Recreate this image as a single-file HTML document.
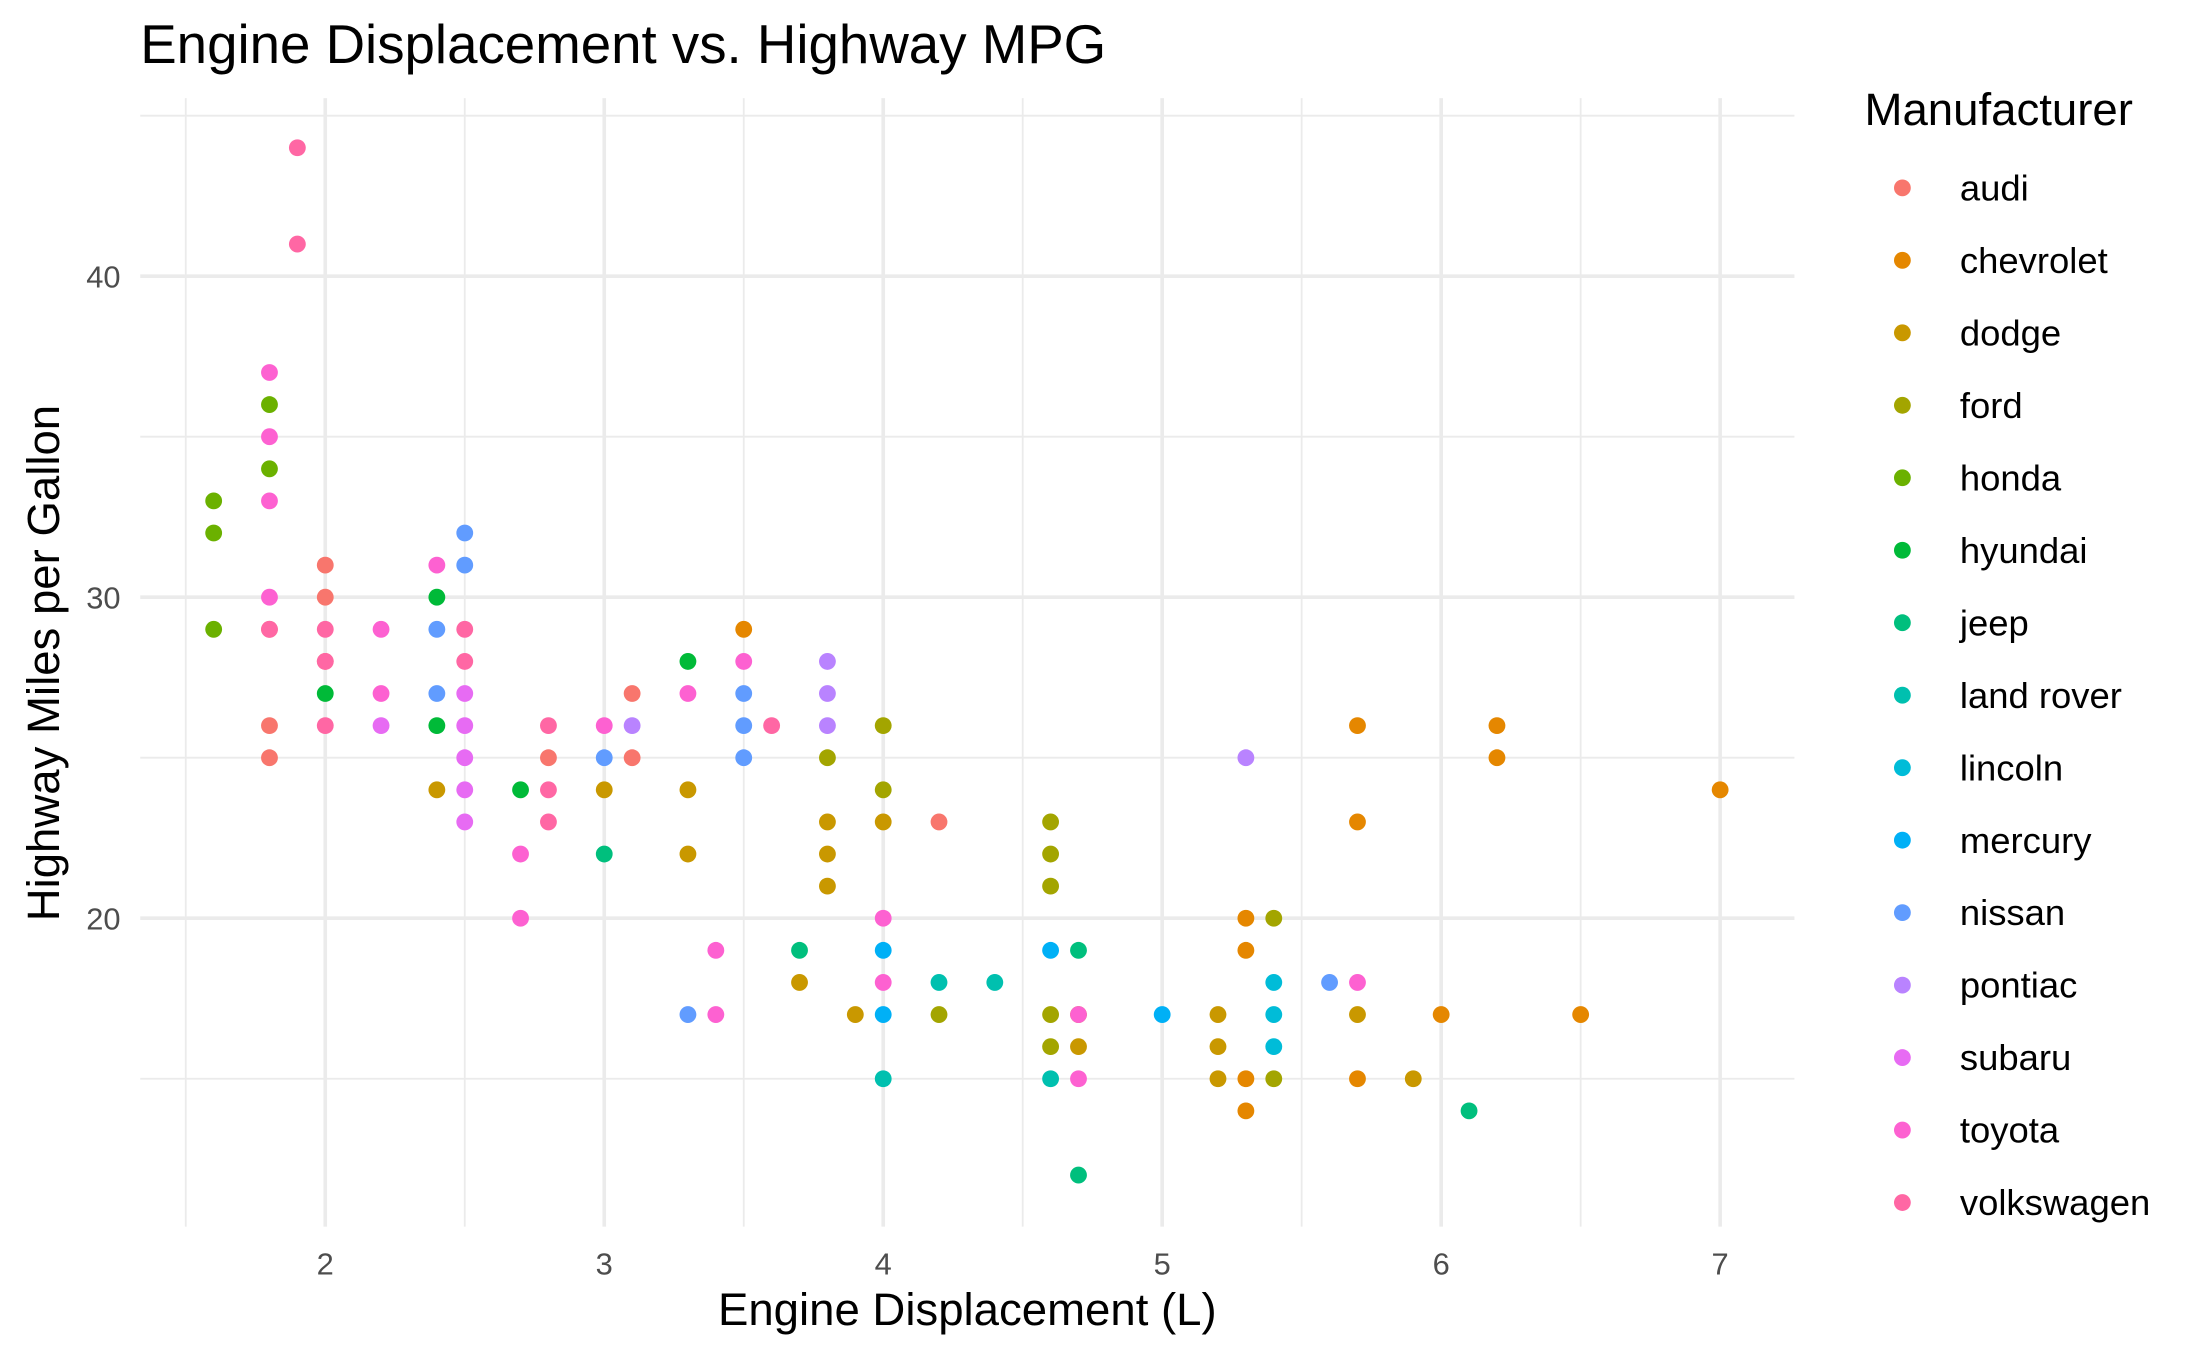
<!DOCTYPE html>
<html><head><meta charset="utf-8"><style>
html,body{margin:0;padding:0;background:#fff;}
svg{display:block;font-family:"Liberation Sans",Arial,sans-serif;}
</style></head><body>
<svg id="s" width="2187" height="1351" viewBox="0 0 1560 963.7" xmlns="http://www.w3.org/2000/svg">
<rect width="1560" height="963.7" fill="#fff"/>
<g id="grid"></g>
<g id="pts"></g>
<text x="100" y="45" font-size="39" fill="#000">Engine Displacement vs. Highway MPG</text>
<g id="ticks" font-size="22" fill="#4d4d4d"></g>
<text x="690" y="945" font-size="32.5" text-anchor="middle" fill="#000">Engine Displacement (L)</text>
<text transform="translate(42,473) rotate(-90)" font-size="32.5" text-anchor="middle" fill="#000">Highway Miles per Gallon</text>
<text x="1330" y="89" font-size="32.5" fill="#000">Manufacturer</text>
<g id="leg" font-size="26" fill="#000"></g>
</svg>
<script>
var NS="http://www.w3.org/2000/svg";
function el(p,t,a,txt){var e=document.createElementNS(NS,t);for(var k in a)e.setAttribute(k,a[k]);if(txt)e.textContent=txt;document.getElementById(p).appendChild(e);}
function X(d){return 232+(d-2)*199;} function Y(h){return 655-(h-20)*22.9;}
for(var d=1.5;d<=7.01;d+=0.5){var maj=(d%1===0);el("grid","line",{x1:X(d),x2:X(d),y1:70,y2:875,stroke:"#ebebeb","stroke-width":maj?2.6:1.3});}
for(var h=15;h<=45;h+=5){var maj=(h%10===0);el("grid","line",{x1:100,x2:1280,y1:Y(h),y2:Y(h),stroke:"#ebebeb","stroke-width":maj?2.6:1.3});}
for(var d=2;d<=7;d++)el("ticks","text",{x:X(d),y:909,"text-anchor":"middle"},""+d);
[20,30,40].forEach(function(h){el("ticks","text",{x:86,y:Y(h)+8,"text-anchor":"end"},""+h);});
var C={audi:"#F8766D",chevrolet:"#E58700",dodge:"#C99800",ford:"#A3A500",honda:"#6BB100",hyundai:"#00BA38",jeep:"#00BF7D","land rover":"#00C0AF",lincoln:"#00BCD8",mercury:"#00B0F6",nissan:"#619CFF",pontiac:"#B983FF",subaru:"#E76BF3",toyota:"#FD61D1",volkswagen:"#FF67A4"};
var names=Object.keys(C);
names.forEach(function(n,i){var y=134+51.7*i;el("leg","circle",{cx:1357,cy:y,r:6,fill:C[n]});el("leg","text",{x:1398,y:y+9},n);});
var P=[
[1.6,33,"honda"],[1.6,32,"honda"],[1.6,29,"honda"],
[1.8,26,"audi"],[1.8,25,"audi"],[1.8,29,"audi"],[1.8,29,"volkswagen"],[1.8,30,"toyota"],[1.8,33,"toyota"],[1.8,35,"toyota"],[1.8,37,"toyota"],[1.8,34,"honda"],[1.8,36,"honda"],
[1.9,44,"volkswagen"],[1.9,41,"volkswagen"],
[2,31,"audi"],[2,30,"audi"],[2,28,"audi"],[2,29,"volkswagen"],[2,28,"volkswagen"],[2,26,"volkswagen"],[2,27,"hyundai"],
[2.2,29,"toyota"],[2.2,27,"toyota"],[2.2,26,"subaru"],
[2.4,27,"nissan"],[2.4,29,"nissan"],[2.4,30,"hyundai"],[2.4,26,"hyundai"],[2.4,24,"dodge"],[2.4,31,"toyota"],
[2.5,32,"nissan"],[2.5,31,"nissan"],[2.5,29,"volkswagen"],[2.5,28,"volkswagen"],[2.5,27,"subaru"],[2.5,26,"subaru"],[2.5,25,"subaru"],[2.5,24,"subaru"],[2.5,23,"subaru"],
[2.7,24,"hyundai"],[2.7,22,"toyota"],[2.7,20,"toyota"],
[2.8,26,"volkswagen"],[2.8,25,"audi"],[2.8,24,"volkswagen"],[2.8,23,"volkswagen"],
[3,26,"toyota"],[3,25,"nissan"],[3,24,"dodge"],[3,22,"jeep"],
[3.1,27,"audi"],[3.1,26,"pontiac"],[3.1,25,"audi"],
[3.3,28,"hyundai"],[3.3,27,"toyota"],[3.3,24,"dodge"],[3.3,22,"dodge"],[3.3,17,"nissan"],
[3.4,19,"toyota"],[3.4,17,"toyota"],
[3.5,29,"chevrolet"],[3.5,28,"toyota"],[3.5,27,"nissan"],[3.5,26,"nissan"],[3.5,25,"nissan"],
[3.6,26,"volkswagen"],[3.7,19,"jeep"],[3.7,18,"dodge"],
[3.8,28,"pontiac"],[3.8,27,"pontiac"],[3.8,26,"pontiac"],[3.8,25,"ford"],[3.8,23,"dodge"],[3.8,22,"dodge"],[3.8,21,"dodge"],
[3.9,17,"dodge"],
[4,26,"ford"],[4,24,"ford"],[4,23,"dodge"],[4,20,"toyota"],[4,19,"mercury"],[4,18,"toyota"],[4,17,"mercury"],[4,15,"land rover"],
[4.2,23,"audi"],[4.2,18,"land rover"],[4.2,17,"ford"],[4.4,18,"land rover"],
[4.6,23,"ford"],[4.6,22,"ford"],[4.6,21,"ford"],[4.6,17,"ford"],[4.6,16,"ford"],[4.6,19,"mercury"],[4.6,15,"land rover"],
[4.7,19,"jeep"],[4.7,17,"dodge"],[4.7,17,"toyota"],[4.7,16,"dodge"],[4.7,15,"toyota"],[4.7,12,"jeep"],
[5,17,"mercury"],
[5.2,17,"dodge"],[5.2,16,"dodge"],[5.2,15,"dodge"],
[5.3,25,"pontiac"],[5.3,20,"chevrolet"],[5.3,19,"chevrolet"],[5.3,15,"chevrolet"],[5.3,14,"chevrolet"],
[5.4,20,"ford"],[5.4,15,"ford"],[5.4,18,"lincoln"],[5.4,17,"lincoln"],[5.4,16,"lincoln"],
[5.6,18,"nissan"],
[5.7,26,"chevrolet"],[5.7,23,"chevrolet"],[5.7,18,"toyota"],[5.7,17,"dodge"],[5.7,15,"chevrolet"],
[5.9,15,"dodge"],[6,17,"chevrolet"],[6.1,14,"jeep"],[6.2,26,"chevrolet"],[6.2,25,"chevrolet"],[6.5,17,"chevrolet"],[7,24,"chevrolet"]
];
P.forEach(function(p){el("pts","circle",{cx:X(p[0]),cy:Y(p[1]),r:6,fill:C[p[2]]});});
</script>
</body></html>
